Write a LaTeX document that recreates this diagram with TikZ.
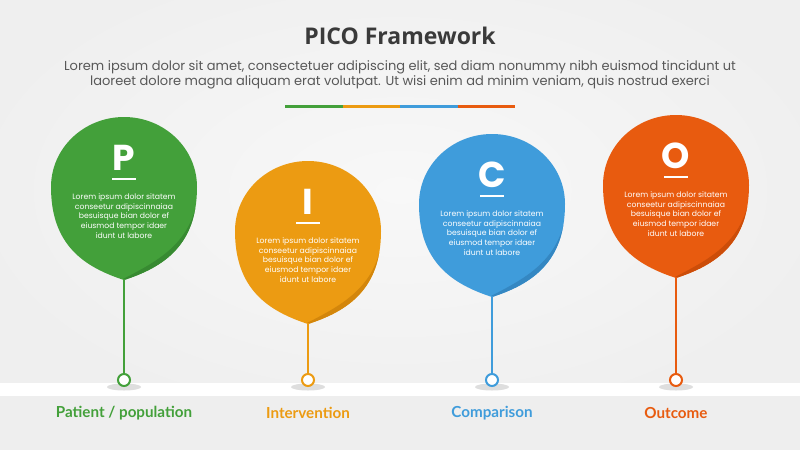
\documentclass[tikz,border=0pt]{standalone}
\usepackage{fontspec}
\setmainfont{Poppins}
\newfontfamily\opensans{Open Sans}
\newfontfamily\lato{Lato}
\definecolor{bgc}{HTML}{EFEFEF}
\definecolor{bgin}{HTML}{F8F8F8}
\definecolor{botc}{HTML}{EEEEEE}
\definecolor{titlec}{HTML}{3A3A3A}
\definecolor{subc}{HTML}{585858}
\definecolor{cG}{HTML}{43A03A}
\definecolor{cGd}{HTML}{378A31}
\definecolor{cO}{HTML}{EC9B12}
\definecolor{cOd}{HTML}{D3860B}
\definecolor{cB}{HTML}{3F9CDB}
\definecolor{cBd}{HTML}{3487C2}
\definecolor{cR}{HTML}{E85B0F}
\definecolor{cRd}{HTML}{CC4D09}
\tikzset{
  letterstyle/.style={text=white, font=\bfseries\fontsize{36}{36}\selectfont, anchor=base, inner sep=0pt},
  bodystyle/.style={text=white, font=\fontsize{7.7}{9.7}\selectfont, align=center, inner sep=0pt},
  labelstyle/.style={font=\lato\bfseries\fontsize{15.2}{17}\selectfont, inner sep=0pt},
  dotstyle/.style={circle, draw=#1, fill=white, line width=2pt, minimum size=12pt, inner sep=0pt},
  stemstyle/.style={draw=#1, line width=2pt},
  shadowstyle/.style={fill=black!13},
}
\newcommand\drawballoon[4]{%
  \begin{scope}[shift={(#1,#2)}]
    \fill[#3] (0,93) .. controls (-40,80) and (-73,58) .. (-73,0) .. controls (-73,-39) and (-40,-70) .. (0,-70) .. controls (40,-70) and (73,-39) .. (73,0) .. controls (73,58) and (40,80) .. (0,93) -- cycle;
    \begin{scope}
      \clip (0,93) .. controls (-40,80) and (-73,58) .. (-73,0) .. controls (-73,-39) and (-40,-70) .. (0,-70) .. controls (40,-70) and (73,-39) .. (73,0) .. controls (73,58) and (40,80) .. (0,93) -- cycle;
      \fill[#4] (74,8) .. controls (68,56) and (34,74) .. (-1,92) -- (-1,100) -- (80,100) -- (80,8) -- cycle;
    \end{scope}
    \draw[white, line width=2.5pt] (-12,-8) -- (12,-8);
  \end{scope}}
\newcommand\bodytext{Lorem ipsum dolor sitatem\\conseetur adipiscinnaiaa\\besuisque bian dolor ef\\eiusmod tempor idaer\\idunt ut labore}
\begin{document}
\begin{tikzpicture}[x=1pt,y=-1pt]
\useasboundingbox (0,0) rectangle (800,450);
% background
\fill[bgc] (0,0) rectangle (800,450);
\shade[inner color=bgin, outer color=bgc] (400,190) ellipse (440 and 240);
\fill[white] (0,383) rectangle (800,396);
\fill[botc] (0,396) rectangle (800,450);
% title
\node[font=\opensans\bfseries\fontsize{23}{27}\selectfont, text=titlec] (title) at (400,36) {PICO Framework};
\node[font=\fontsize{13}{15}\selectfont, text=subc, align=center] (sub1) at (400,67) {Lorem ipsum dolor sit amet, consectetuer adipiscing elit, sed diam nonummy nibh euismod tincidunt ut};
\node[font=\fontsize{13}{15}\selectfont, text=subc, align=center] (sub2) at (400,82) {laoreet dolore magna aliquam erat volutpat. Ut wisi enim ad minim veniam, quis nostrud exerci};
% colour bar
\draw[cG, line width=3pt] (285,106) -- (342.5,106);
\draw[cO, line width=3pt] (342.5,106) -- (400,106);
\draw[cB, line width=3pt] (400,106) -- (457.5,106);
\draw[cR, line width=3pt] (457.5,106) -- (515,106);
% shadows
\fill[shadowstyle] (124,387) ellipse (17 and 3.5);
\fill[shadowstyle] (308,387) ellipse (17 and 3.5);
\fill[shadowstyle] (492,387) ellipse (17 and 3.5);
\fill[shadowstyle] (676,387) ellipse (17 and 3.5);
% balloons
\drawballoon{124}{187}{cG}{cGd}
\drawballoon{308}{231}{cO}{cOd}
\drawballoon{492}{204}{cB}{cBd}
\drawballoon{676}{185}{cR}{cRd}
% letters
\node[letterstyle] (letP) at (124,170) {P};
\node[letterstyle] (letI) at (308,214) {I};
\node[letterstyle] (letC) at (492,187) {C};
\node[letterstyle] (letO) at (676,168) {O};
% body text
\node[bodystyle] (txtP) at (124,216) {\bodytext};
\node[bodystyle] (txtI) at (308,260) {\bodytext};
\node[bodystyle] (txtC) at (492,233) {\bodytext};
\node[bodystyle] (txtO) at (676,214) {\bodytext};
% tips, stems, dots
\coordinate (tipP) at (124,279);
\coordinate (tipI) at (308,323);
\coordinate (tipC) at (492,296);
\coordinate (tipO) at (676,277);
\node[dotstyle=cG] (dotP) at (124,380) {};
\node[dotstyle=cO] (dotI) at (308,380) {};
\node[dotstyle=cB] (dotC) at (492,380) {};
\node[dotstyle=cR] (dotO) at (676,380) {};
\draw[stemstyle=cG] (tipP) -- (dotP);
\draw[stemstyle=cO] (tipI) -- (dotI);
\draw[stemstyle=cB] (tipC) -- (dotC);
\draw[stemstyle=cR] (tipO) -- (dotO);
% labels
\node[labelstyle, text=cG] (labP) at (124,413) {Patient / population};
\node[labelstyle, text=cO] (labI) at (308,413) {Intervention};
\node[labelstyle, text=cB] (labC) at (492,413) {Comparison};
\node[labelstyle, text=cR] (labO) at (676,413) {Outcome};
\end{tikzpicture}
\end{document}
